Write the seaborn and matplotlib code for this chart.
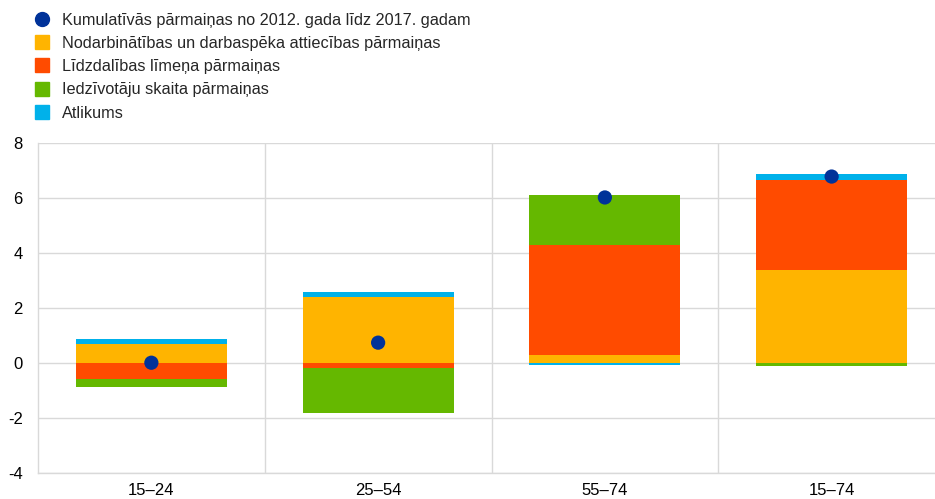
import matplotlib
matplotlib.use("Agg")
import matplotlib.pyplot as plt
from matplotlib.lines import Line2D
import numpy as np
import pandas as pd
import seaborn as sns

# Age groups
groups = ["15–24", "25–54", "55–74", "15–74"]

# Contributions to the change (percentage points)
employment_ratio = [0.70, 2.41, 0.28, 3.38]
participation = [-0.58, -0.17, 4.00, 3.26]
population = [-0.28, -1.66, 1.83, -0.10]
residual = [0.17, 0.16, -0.09, 0.24]

# Cumulative change 2012–2017
cumulative = [0.01, 0.74, 6.02, 6.78]

series_names = [
    "Nodarbinātības un darbaspēka attiecības pārmaiņas",
    "Līdzdalības līmeņa pārmaiņas",
    "Iedzīvotāju skaita pārmaiņas",
    "Atlikums",
]
dot_name = "Kumulatīvās pārmaiņas no 2012. gada līdz 2017. gadam"

colors = ["#FFB400", "#FF4B00", "#65B800", "#00B1EA"]
dot_color = "#003299"
grid_color = "#d9d9d9"

sns.set_theme(style="white")
plt.rcParams["font.family"] = ["Liberation Sans", "DejaVu Sans"]
plt.rcParams["axes.unicode_minus"] = False

fig = plt.figure(figsize=(9.35, 4.99), dpi=100)
ax = fig.add_axes([38 / 935, 1 - 473 / 499, 907 / 935, 330 / 499])

# Stack positives upward and negatives downward from zero
pos_base = np.zeros(len(groups))
neg_base = np.zeros(len(groups))
for name, vals, col in zip(series_names,
                           [employment_ratio, participation, population, residual],
                           colors):
    vals = np.asarray(vals, dtype=float)
    bottom = np.where(vals >= 0, pos_base, neg_base)
    df = pd.DataFrame({"group": groups, "value": vals})
    sns.barplot(data=df, x="group", y="value", order=groups, color=col,
                width=0.667, bottom=bottom, saturation=1, linewidth=0,
                errorbar=None, ax=ax, zorder=2)
    pos_base = pos_base + np.where(vals >= 0, vals, 0)
    neg_base = neg_base + np.where(vals < 0, vals, 0)

dots = pd.DataFrame({"group": groups, "value": cumulative})
sns.scatterplot(data=dots, x="group", y="value", color=dot_color, s=105,
                edgecolor="none", ax=ax, zorder=4, legend=False)

ax.set_xlim(-0.5, 3.5)
ax.set_ylim(-4, 8)
ax.set_yticks(np.arange(-4, 9, 2))
ax.set_xticks(range(len(groups)))
ax.set_xticklabels(groups)
ax.set_xticks([0.5, 1.5, 2.5], minor=True)
ax.set_xlabel("")
ax.set_ylabel("")

ax.grid(axis="y", which="major", color=grid_color, linewidth=1, zorder=0)
ax.grid(axis="x", which="minor", color=grid_color, linewidth=1, zorder=0)
ax.grid(axis="x", which="major", visible=False)
ax.set_axisbelow(True)

for side in ["top", "right"]:
    ax.spines[side].set_visible(False)
for side in ["left", "bottom"]:
    ax.spines[side].set_color(grid_color)
    ax.spines[side].set_linewidth(1)

ax.tick_params(axis="both", which="both", length=0, labelsize=12, colors="black")
ax.tick_params(axis="y", pad=11)
ax.tick_params(axis="x", pad=7)

handles = [Line2D([], [], marker="o", linestyle="", color=dot_color, markersize=10)]
handles += [Line2D([], [], marker="s", linestyle="", color=c, markersize=9.5) for c in colors]
labels = [dot_name] + series_names
fig.legend(handles, labels, loc="upper left", bbox_to_anchor=(33.9 / 935, 1 - 12.5 / 499),
           frameon=False, fontsize=11.7, handlelength=1.0, handletextpad=0.73,
           labelspacing=0.51, borderpad=0, borderaxespad=0)

fig.savefig("out.png", dpi=100)
